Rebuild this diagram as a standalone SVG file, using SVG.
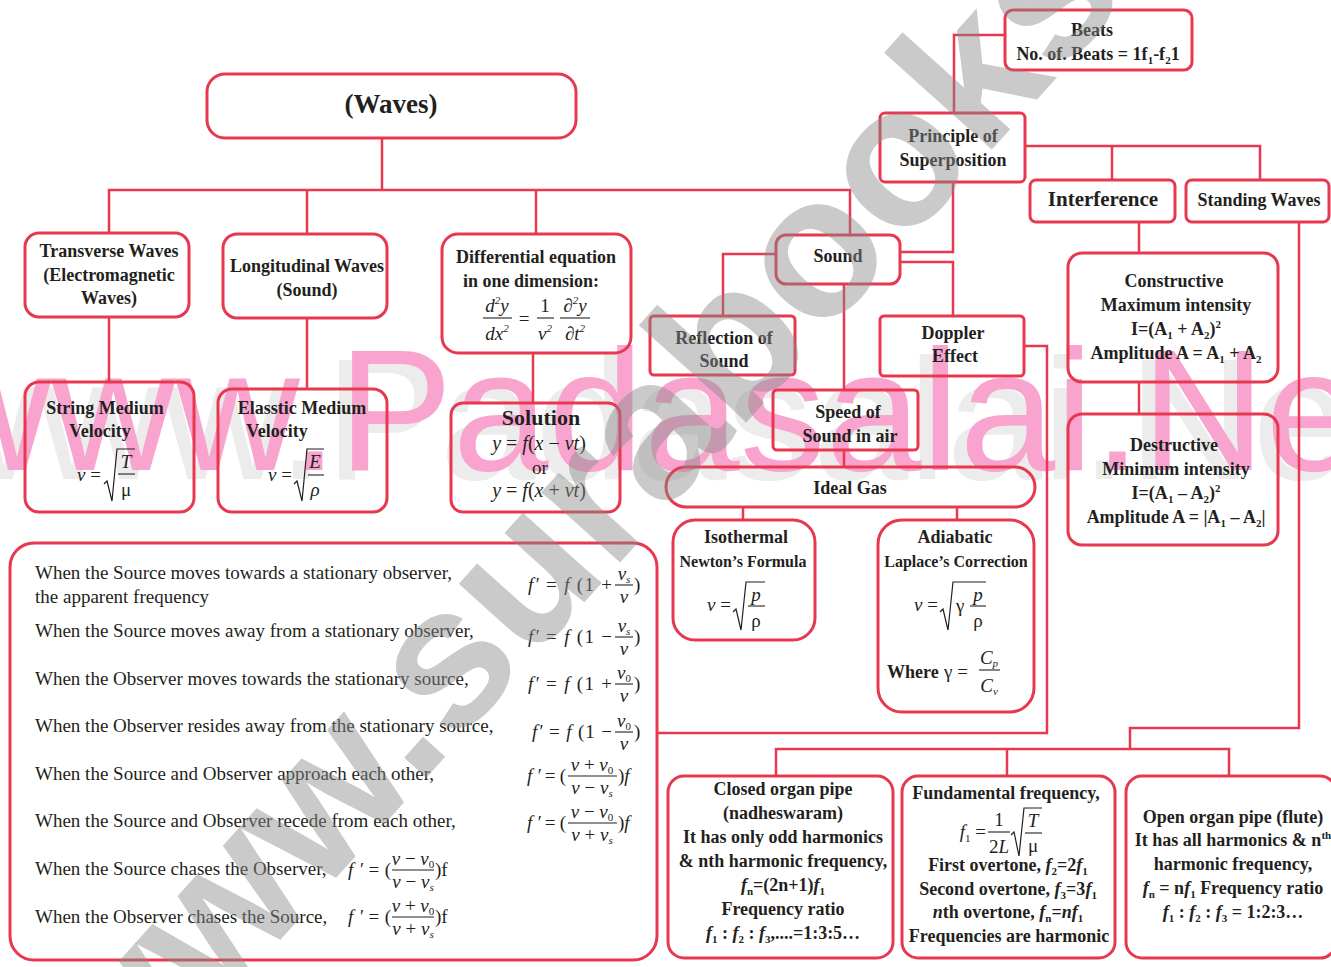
<svg xmlns="http://www.w3.org/2000/svg" width="1331" height="967" viewBox="0 0 1331 967">
<style>
.bx{fill:none;stroke:#e8384f;stroke-width:3}
.cn{fill:none;stroke:#e8384f;stroke-width:2.5}
.t{font-family:"Liberation Serif",serif;font-weight:bold;font-size:18px;fill:#231f20;text-anchor:middle}
.r{font-family:"Liberation Serif",serif;font-size:19px;fill:#231f20}
.m{font-family:"Liberation Serif",serif;font-style:italic;font-size:19px;fill:#231f20}
.u{font-style:normal}
.i{font-style:italic}
.s{font-size:11px}
.fb{stroke:#231f20;stroke-width:1.1}
.rad{fill:none;stroke:#231f20;stroke-width:1.2}
.c{text-anchor:middle}
.e{text-anchor:end}
</style>
<rect width="1331" height="967" fill="#ffffff"/>
<g id="watermark-padasalai">
<text x="-86" y="479" font-family="Liberation Sans, sans-serif" font-size="172" fill="#ececec">www.Padasalai.Net</text>
<text x="-73" y="470" font-family="Liberation Sans, sans-serif" font-size="172" fill="#f8a4ce">www.Padasalai.Net</text>
</g>
<g id="connectors">
<path class="cn" d="M382,138 V190"/>
<path class="cn" d="M109,233 V190 H850 V235"/>
<path class="cn" d="M307,190 V234"/>
<path class="cn" d="M536,190 V234"/>
<path class="cn" d="M109,317 V382"/>
<path class="cn" d="M307,318 V389"/>
<path class="cn" d="M533,353 V403"/>
<path class="cn" d="M1005,35 H954 V113"/>
<path class="cn" d="M1025,146 H1260 V180"/>
<path class="cn" d="M1112,146 V180"/>
<path class="cn" d="M953,182 V252 H900"/>
<path class="cn" d="M900,262 H953 V316"/>
<path class="cn" d="M776,254 H723 V316"/>
<path class="cn" d="M844,284 V390"/>
<path class="cn" d="M844,450 V467"/>
<path class="cn" d="M743,507 V520"/>
<path class="cn" d="M957,507 V520"/>
<path class="cn" d="M1024,346 H1047 V733 H657"/>
<path class="cn" d="M1139,222 V253"/>
<path class="cn" d="M1139,382 V414"/>
<path class="cn" d="M1299,222 V728 H1130 V749"/>
<path class="cn" d="M776,776 V749 H1229 V776"/>
<path class="cn" d="M1007,749 V776"/>
</g>
<g id="waves">
<rect class="bx" x="207" y="74" width="369" height="64" rx="18"/>
<text class="t" x="391" y="113" style="font-size:27px">(Waves)</text>
</g>
<g id="beats">
<rect class="bx" x="1005" y="10" width="187" height="60" rx="8"/>
<text class="t" x="1092" y="36">Beats</text>
<text class="t" x="1098" y="60">No. of. Beats = 1f<tspan class="s" dy="4">1</tspan><tspan dy="-4">-f</tspan><tspan class="s" dy="4">2</tspan><tspan dy="-4">1</tspan></text>
</g>
<g id="superposition">
<rect class="bx" x="880" y="113" width="145" height="69" rx="5"/>
<text class="t" x="953" y="142">Principle of</text>
<text class="t" x="953" y="166">Superposition</text>
</g>
<g id="interference">
<rect class="bx" x="1030" y="180" width="145" height="42" rx="6"/>
<text class="t" x="1103" y="206" style="font-size:21px">Interference</text>
</g>
<g id="standing">
<rect class="bx" x="1186" y="180" width="143" height="42" rx="6"/>
<text class="t" x="1259" y="206">Standing Waves</text>
</g>
<g id="transverse">
<rect class="bx" x="25" y="233" width="164" height="84" rx="14"/>
<text class="t" x="109" y="257">Transverse Waves</text>
<text class="t" x="109" y="281">(Electromagnetic</text>
<text class="t" x="109" y="304">Waves)</text>
</g>
<g id="longitudinal">
<rect class="bx" x="223" y="234" width="164" height="84" rx="14"/>
<text class="t" x="307" y="272">Longitudinal Waves</text>
<text class="t" x="307" y="296">(Sound)</text>
</g>
<g id="differential">
<rect class="bx" x="442" y="234" width="189" height="119" rx="16"/>
<text class="t" x="536" y="263">Differential equation</text>
<text class="t" x="531" y="287">in one dimension:</text>
<text class="m c" x="497" y="312">d<tspan class="s" dy="-8">2</tspan><tspan dy="8">y</tspan></text>
<line class="fb" x1="483" y1="318" x2="512" y2="318"/>
<text class="m c" x="497" y="340">dx<tspan class="s" dy="-8">2</tspan></text>
<text class="r c" x="524" y="325">=</text>
<text class="r c" x="545" y="312">1</text>
<line class="fb" x1="537" y1="318" x2="554" y2="318"/>
<text class="m c" x="545" y="340">v<tspan class="s" dy="-8">2</tspan></text>
<text class="m c" x="575" y="312">∂<tspan class="s" dy="-8">2</tspan><tspan dy="8">y</tspan></text>
<line class="fb" x1="560" y1="318" x2="590" y2="318"/>
<text class="m c" x="575" y="340">∂t<tspan class="s" dy="-8">2</tspan></text>
</g>
<g id="sound">
<rect class="bx" x="776" y="235" width="124" height="49" rx="10"/>
<text class="t" x="838" y="262">Sound</text>
</g>
<g id="reflection">
<rect class="bx" x="650" y="316" width="145" height="59" rx="4"/>
<text class="t" x="724" y="344">Reflection of</text>
<text class="t" x="724" y="367">Sound</text>
</g>
<g id="doppler">
<rect class="bx" x="880" y="316" width="144" height="60" rx="4"/>
<text class="t" x="953" y="339">Doppler</text>
<text class="t" x="955" y="362">Effect</text>
</g>
<g id="constructive">
<rect class="bx" x="1068" y="253" width="210" height="129" rx="14"/>
<text class="t" x="1174" y="287">Constructive</text>
<text class="t" x="1176" y="311">Maximum intensity</text>
<text class="t" x="1176" y="335">I=(A<tspan class="s" dy="4">1</tspan><tspan dy="-4"> + A</tspan><tspan class="s" dy="4">2</tspan><tspan dy="-4">)</tspan><tspan class="s" dy="-7">2</tspan></text>
<text class="t" x="1176" y="359">Amplitude A = A<tspan class="s" dy="4">1</tspan><tspan dy="-4"> + A</tspan><tspan class="s" dy="4">2</tspan></text>
</g>
<g id="destructive">
<rect class="bx" x="1068" y="414" width="210" height="131" rx="14"/>
<text class="t" x="1174" y="451">Destructive</text>
<text class="t" x="1176" y="475">Minimum intensity</text>
<text class="t" x="1176" y="499">I=(A<tspan class="s" dy="4">1</tspan><tspan dy="-4"> – A</tspan><tspan class="s" dy="4">2</tspan><tspan dy="-4">)</tspan><tspan class="s" dy="-7">2</tspan></text>
<text class="t" x="1176" y="523">Amplitude A = |A<tspan class="s" dy="4">1</tspan><tspan dy="-4"> – A</tspan><tspan class="s" dy="4">2</tspan><tspan dy="-4">|</tspan></text>
</g>
<g id="string">
<rect class="bx" x="25" y="382" width="169" height="130" rx="14"/>
<text class="t" x="105" y="414">String Medium</text>
<text class="t" x="100" y="437">Velocity</text>
<text class="m e" x="101" y="481">v<tspan class="u"> =</tspan></text>
<path class="rad" d="M104,484 l3,-3 l5,20 l5,-52 h18"/>
<text class="m c" x="126" y="468">T</text>
<line class="fb" x1="118" y1="474" x2="135" y2="474"/>
<text class="r c" x="126" y="496">μ</text>
</g>
<g id="elastic">
<rect class="bx" x="218" y="389" width="169" height="123" rx="14"/>
<text class="t" x="302" y="414">Elasstic Medium</text>
<text class="t" x="277" y="437">Velocity</text>
<text class="m e" x="292" y="481">v<tspan class="u"> =</tspan></text>
<path class="rad" d="M294,484 l3,-3 l5,20 l5,-52 h17"/>
<text class="m c" x="315" y="468">E</text>
<line class="fb" x1="308" y1="475" x2="324" y2="475"/>
<text class="m c" x="315" y="496">ρ</text>
</g>
<g id="solution">
<rect class="bx" x="451" y="403" width="169" height="109" rx="12"/>
<text class="t" x="541" y="425" style="font-size:22px">Solution</text>
<text class="m c" x="539" y="450" style="font-size:20px">y<tspan class="u"> = </tspan>f<tspan class="u">(</tspan>x<tspan class="u"> − </tspan>vt<tspan class="u">)</tspan></text>
<text class="r c" x="540" y="474">or</text>
<text class="m c" x="539" y="497" style="font-size:20px">y<tspan class="u"> = </tspan>f<tspan class="u">(</tspan>x<tspan class="u"> + </tspan>vt<tspan class="u">)</tspan></text>
</g>
<g id="speed">
<rect class="bx" x="773" y="390" width="145" height="60" rx="4"/>
<text class="t" x="848" y="418">Speed of</text>
<text class="t" x="850" y="442">Sound in air</text>
</g>
<g id="idealgas">
<rect class="bx" x="666" y="467" width="369" height="40" rx="20"/>
<text class="t" x="850" y="494">Ideal Gas</text>
</g>
<g id="isothermal">
<rect class="bx" x="673" y="520" width="142" height="120" rx="22"/>
<text class="t" x="746" y="543">Isothermal</text>
<text class="t" x="743" y="567" style="font-size:16px">Newton’s Formula</text>
<text class="m e" x="731" y="611">v<tspan class="u"> =</tspan></text>
<path class="rad" d="M733,612 l3,-3 l5,21 l5,-48 h19"/>
<text class="m c" x="756" y="601">p</text>
<line class="fb" x1="748" y1="606" x2="765" y2="606"/>
<text class="r c" x="756" y="627">ρ</text>
</g>
<g id="adiabatic">
<rect class="bx" x="878" y="520" width="156" height="192" rx="24"/>
<text class="t" x="955" y="543">Adiabatic</text>
<text class="t" x="956" y="567" style="font-size:16px">Laplace’s  Correction</text>
<text class="m e" x="938" y="611">v<tspan class="u"> =</tspan></text>
<path class="rad" d="M940,612 l3,-3 l5,21 l5,-48 h33"/>
<text class="r" x="956" y="612">γ</text>
<text class="m c" x="978" y="601">p</text>
<line class="fb" x1="970" y1="606" x2="986" y2="606"/>
<text class="r c" x="978" y="627">ρ</text>
<text class="t" x="887" y="678" style="text-anchor:start">Where</text>
<text class="r" x="944" y="678">γ =</text>
<text class="m c" x="989" y="664">C<tspan class="s" dy="3">p</tspan></text>
<line class="fb" x1="979" y1="670" x2="1000" y2="670"/>
<text class="m c" x="989" y="692">C<tspan class="s" dy="3">v</tspan></text>
</g>
<g id="doppler-formulas">
<rect class="bx" x="10" y="543" width="647" height="417" rx="24"/>
<text class="r" x="35" y="579">When the Source moves towards a stationary observer,</text>
<text class="r" x="35" y="603">the apparent frequency</text>
<text class="m" x="528" y="591" textLength="84" lengthAdjust="spacing">f′<tspan class="u"> = </tspan>f<tspan class="u"> (1 + </tspan></text>
<text class="m c" x="624" y="580">v<tspan class="s" dy="3">s</tspan></text>
<line class="fb" x1="615" y1="585" x2="633" y2="585"/>
<text class="m c" x="624" y="603">v</text>
<text class="r" x="634" y="591">)</text>

<text class="r" x="35" y="637">When the Source moves away from a stationary observer,</text>
<text class="m" x="528" y="643" textLength="84" lengthAdjust="spacing">f′<tspan class="u"> = </tspan>f<tspan class="u"> (1 − </tspan></text>
<text class="m c" x="624" y="632">v<tspan class="s" dy="3">s</tspan></text>
<line class="fb" x1="615" y1="637" x2="633" y2="637"/>
<text class="m c" x="624" y="655">v</text>
<text class="r" x="634" y="643">)</text>

<text class="r" x="35" y="685">When the Observer moves towards the stationary source,</text>
<text class="m" x="528" y="690" textLength="84" lengthAdjust="spacing">f′<tspan class="u"> = </tspan>f<tspan class="u"> (1 + </tspan></text>
<text class="m c" x="624" y="679">v<tspan class="s u" dy="3">0</tspan></text>
<line class="fb" x1="615" y1="684" x2="633" y2="684"/>
<text class="m c" x="624" y="702">v</text>
<text class="r" x="634" y="690">)</text>

<text class="r" x="35" y="732">When the Observer resides away from the stationary source,</text>
<text class="m" x="532" y="738" textLength="80" lengthAdjust="spacing">f′<tspan class="u"> = </tspan>f<tspan class="u"> (1 − </tspan></text>
<text class="m c" x="624" y="727">v<tspan class="s u" dy="3">0</tspan></text>
<line class="fb" x1="615" y1="732" x2="633" y2="732"/>
<text class="m c" x="624" y="750">v</text>
<text class="r" x="634" y="738">)</text>

<text class="r" x="35" y="780">When the Source and Observer approach each other,</text>
<text class="m" x="527" y="782" textLength="39" lengthAdjust="spacing">f′<tspan class="u">=(</tspan></text>
<text class="m c" x="592" y="771">v<tspan class="u"> + </tspan>v<tspan class="s u" dy="3">0</tspan></text>
<line class="fb" x1="568" y1="776" x2="617" y2="776"/>
<text class="m c" x="592" y="794">v<tspan class="u"> − </tspan>v<tspan class="s" dy="3">s</tspan></text>
<text class="m" x="618" y="782"><tspan class="u">)</tspan>f</text>

<text class="r" x="35" y="827">When the Source and Observer recede from each other,</text>
<text class="m" x="527" y="829" textLength="39" lengthAdjust="spacing">f′<tspan class="u">=(</tspan></text>
<text class="m c" x="592" y="818">v<tspan class="u"> − </tspan>v<tspan class="s u" dy="3">0</tspan></text>
<line class="fb" x1="568" y1="823" x2="617" y2="823"/>
<text class="m c" x="592" y="841">v<tspan class="u"> + </tspan>v<tspan class="s" dy="3">s</tspan></text>
<text class="m" x="618" y="829"><tspan class="u">)</tspan>f</text>

<text class="r" x="35" y="875">When the Source chases the Observer,</text>
<text class="m" x="348" y="876" textLength="43" lengthAdjust="spacing">f′<tspan class="u">=(</tspan></text>
<text class="m c" x="413" y="865">v<tspan class="u"> − </tspan>v<tspan class="s u" dy="3">0</tspan></text>
<line class="fb" x1="392" y1="870" x2="434" y2="870"/>
<text class="m c" x="413" y="888">v<tspan class="u"> − </tspan>v<tspan class="s" dy="3">s</tspan></text>
<text class="r" x="435" y="876">)f</text>

<text class="r" x="35" y="923">When the Observer chases the Source,</text>
<text class="m" x="348" y="923" textLength="43" lengthAdjust="spacing">f′<tspan class="u">=(</tspan></text>
<text class="m c" x="413" y="912">v<tspan class="u"> + </tspan>v<tspan class="s u" dy="3">0</tspan></text>
<line class="fb" x1="392" y1="917" x2="434" y2="917"/>
<text class="m c" x="413" y="935">v<tspan class="u"> + </tspan>v<tspan class="s" dy="3">s</tspan></text>
<text class="r" x="435" y="923">)f</text>
</g>
<g id="closed-pipe">
<rect class="bx" x="668" y="776" width="225" height="182" rx="16"/>
<text class="t" x="783" y="795">Closed organ pipe</text>
<text class="t" x="783" y="819">(nadheswaram)</text>
<text class="t" x="783" y="843">It has only odd harmonics</text>
<text class="t" x="783" y="867">&amp; nth harmonic frequency,</text>
<text class="t" x="783" y="891"><tspan class="i">f</tspan><tspan class="s" dy="4">n</tspan><tspan dy="-4">=(2n+1)</tspan><tspan class="i">f</tspan><tspan class="s" dy="4">1</tspan></text>
<text class="t" x="783" y="915">Frequency ratio</text>
<text class="t" x="783" y="939"><tspan class="i">f</tspan><tspan class="s" dy="4">1</tspan><tspan dy="-4"> : </tspan><tspan class="i">f</tspan><tspan class="s" dy="4">2</tspan><tspan dy="-4"> : </tspan><tspan class="i">f</tspan><tspan class="s" dy="4">3</tspan><tspan dy="-4">,....=1:3:5…</tspan></text>
</g>
<g id="fundamental">
<rect class="bx" x="902" y="776" width="213" height="182" rx="16"/>
<text class="t" x="1006" y="799">Fundamental frequency,</text>
<text class="m e" x="986" y="838">f<tspan class="s u" dy="4">1</tspan><tspan class="u" dy="-4"> =</tspan></text>
<text class="r c" x="999" y="826">1</text>
<line class="fb" x1="988" y1="832" x2="1010" y2="832"/>
<text class="m c" x="999" y="853"><tspan class="u">2</tspan>L</text>
<path class="rad" d="M1011,835 l3,-3 l5,24 l5,-48 h18"/>
<text class="m c" x="1033" y="827">T</text>
<line class="fb" x1="1025" y1="833" x2="1042" y2="833"/>
<text class="r c" x="1033" y="852">μ</text>
<text class="t" x="1008" y="871">First overtone, <tspan class="i">f</tspan><tspan class="s" dy="4">2</tspan><tspan dy="-4">=2</tspan><tspan class="i">f</tspan><tspan class="s" dy="4">1</tspan></text>
<text class="t" x="1008" y="895">Second overtone, <tspan class="i">f</tspan><tspan class="s" dy="4">3</tspan><tspan dy="-4">=3</tspan><tspan class="i">f</tspan><tspan class="s" dy="4">1</tspan></text>
<text class="t" x="1008" y="918"><tspan class="i">n</tspan>th overtone, <tspan class="i">f</tspan><tspan class="s" dy="4">n</tspan><tspan dy="-4">=</tspan><tspan class="i">nf</tspan><tspan class="s" dy="4">1</tspan></text>
<text class="t" x="1009" y="942">Frequencies are harmonic</text>
</g>
<g id="open-pipe">
<rect class="bx" x="1126" y="776" width="210" height="182" rx="16"/>
<text class="t" x="1233" y="823">Open organ pipe (flute)</text>
<text class="t" x="1233" y="846">It has all harmonics &amp; n<tspan class="s" dy="-7">th</tspan></text>
<text class="t" x="1233" y="870">harmonic frequency,</text>
<text class="t" x="1233" y="894"><tspan class="i">f</tspan><tspan class="s" dy="4">n</tspan><tspan dy="-4"> = n</tspan><tspan class="i">f</tspan><tspan class="s" dy="4">1</tspan><tspan dy="-4"> Frequency ratio</tspan></text>
<text class="t" x="1233" y="918"><tspan class="i">f</tspan><tspan class="s" dy="4">1</tspan><tspan dy="-4"> : </tspan><tspan class="i">f</tspan><tspan class="s" dy="4">2</tspan><tspan dy="-4"> : </tspan><tspan class="i">f</tspan><tspan class="s" dy="4">3</tspan><tspan dy="-4"> = 1:2:3…</tspan></text>
</g>
<g id="watermark-surabooks">
<text transform="translate(110,1129) rotate(-48)" font-family="Liberation Sans, sans-serif" font-weight="bold" font-size="200" fill="#8a8a8a" fill-opacity="0.45">www.surabooks.com</text>
</g>
</svg>
